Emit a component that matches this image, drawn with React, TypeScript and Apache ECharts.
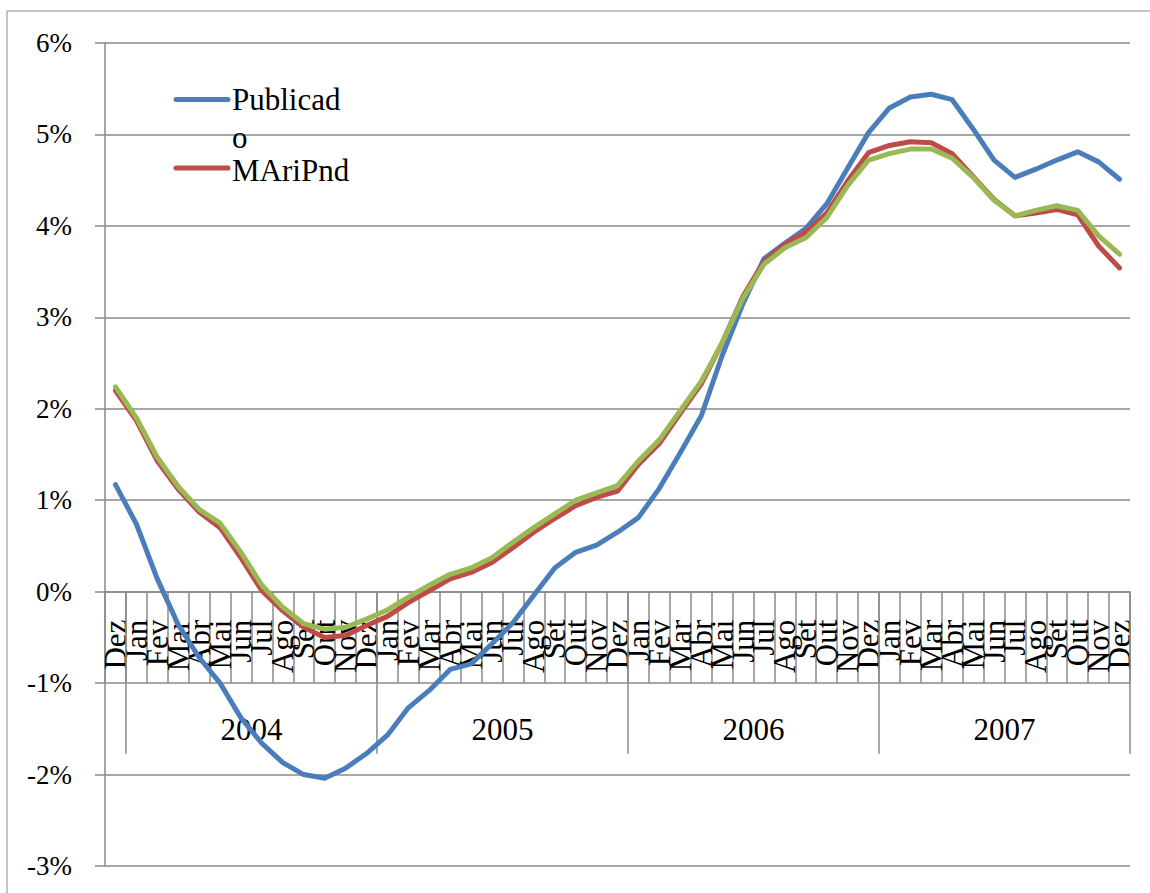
import React, { useEffect, useRef } from "react";
import * as echarts from "echarts";

// Month abbreviations (pt-BR) and the years covered
const monthNames = ["Jan", "Fev", "Mar", "Abr", "Mai", "Jun", "Jul", "Ago", "Set", "Out", "Nov", "Dez"];
const years = ["2004", "2005", "2006", "2007"];

// Categories: Dez/2003 followed by every month of 2004–2007
const categories: string[] = ["Dez/2003"];
years.forEach((y) => monthNames.forEach((m) => categories.push(`${m}/${y}`)));

// Series values (%)
const publicado = [
  1.17, 0.74, 0.14, -0.36, -0.72, -1.0, -1.38, -1.66, -1.87, -2.0, -2.04, -1.93, -1.77,
  -1.57, -1.27, -1.08, -0.85, -0.79, -0.57, -0.34, -0.04, 0.26, 0.43, 0.51, 0.65,
  0.81, 1.13, 1.52, 1.92, 2.58, 3.15, 3.64, 3.81, 3.97, 4.24, 4.63, 5.02,
  5.29, 5.41, 5.44, 5.38, 5.06, 4.72, 4.53, 4.62, 4.72, 4.81, 4.7, 4.51,
];
const mAriPnd = [
  2.2, 1.87, 1.43, 1.12, 0.87, 0.7, 0.37, 0.01, -0.21, -0.39, -0.5, -0.48, -0.37,
  -0.27, -0.12, 0.01, 0.14, 0.21, 0.32, 0.48, 0.65, 0.8, 0.94, 1.03, 1.1,
  1.39, 1.62, 1.95, 2.27, 2.72, 3.23, 3.61, 3.8, 3.93, 4.14, 4.49, 4.8,
  4.88, 4.92, 4.91, 4.79, 4.54, 4.29, 4.11, 4.14, 4.18, 4.12, 3.78, 3.54,
];
const serie3 = [
  2.24, 1.9, 1.47, 1.15, 0.9, 0.75, 0.43, 0.07, -0.17, -0.35, -0.41, -0.39, -0.3,
  -0.2, -0.06, 0.07, 0.19, 0.26, 0.37, 0.54, 0.7, 0.85, 1.0, 1.08, 1.16,
  1.43, 1.66, 1.98, 2.3, 2.72, 3.21, 3.58, 3.76, 3.87, 4.09, 4.44, 4.72,
  4.79, 4.84, 4.84, 4.74, 4.53, 4.28, 4.11, 4.17, 4.22, 4.17, 3.89, 3.69,
];

const serif = '"Liberation Serif", "Times New Roman", serif';
const gridColor = "#8a8a8a";
const blue = "#4A7EBB";
const red = "#BE4B48";
const green = "#98B954";

export default function App() {
  const ref = useRef<HTMLDivElement>(null);

  useEffect(() => {
    if (!ref.current) return;
    const chart = echarts.init(ref.current, undefined, { renderer: "svg" });

    const line = (name: string, data: number[], color: string) => ({
      name,
      type: "line",
      data,
      showSymbol: false,
      symbol: "none",
      z: 5,
      lineStyle: { color, width: 5, cap: "round", join: "round" },
      itemStyle: { color },
    });

    chart.setOption({
      animation: false,
      backgroundColor: "#ffffff",
      grid: { left: 105, right: 20, top: 43, bottom: 27, containLabel: false, outerBoundsMode: "none" },
      xAxis: {
        type: "category",
        data: categories,
        boundaryGap: true,
        axisLine: { show: true, onZero: true, lineStyle: { color: gridColor, width: 1.5 } },
        axisTick: { show: true, interval: 0, length: 91, lineStyle: { color: gridColor, width: 1.5 } },
        axisLabel: { show: false },
        splitLine: { show: false },
      },
      yAxis: {
        type: "value",
        min: -3,
        max: 6,
        interval: 1,
        axisLine: { show: true, lineStyle: { color: gridColor, width: 1.5 } },
        axisTick: { show: true, length: 10, lineStyle: { color: gridColor, width: 1.5 } },
        axisLabel: {
          margin: 33,
          fontFamily: serif,
          fontSize: 27,
          color: "#000",
          formatter: (v: number) => `${v}%`,
        },
        splitLine: { show: true, lineStyle: { color: gridColor, width: 1.5 } },
      },
      series: [
        line("Publicado", publicado, blue),
        line("MAriPnd", mAriPnd, red),
        line("Série3", serie3, green),
      ],
    });

    // Positions taken from the chart's own scales
    const px = (i: number) => chart.convertToPixel({ xAxisIndex: 0 }, i) as number;
    const y0 = chart.convertToPixel({ yAxisIndex: 0 }, 0) as number;
    const step = px(1) - px(0);
    const boundary = (i: number) => px(i) + step / 2;

    const graphic: any[] = [
      {
        type: "rect",
        shape: { x: 7, y: 11, width: 1200, height: 950 },
        style: { fill: "none", stroke: gridColor, lineWidth: 1 },
        silent: true,
        z: 0,
      },
    ];

    // Month labels, vertical, reading upwards, hanging under the zero line (drawn under the series)
    categories.forEach((c, i) => {
      graphic.push({
        type: "text",
        x: px(i),
        y: y0 + 28,
        rotation: Math.PI / 2,
        style: {
          text: c.split("/")[0],
          font: `31px ${serif}`,
          fill: "#000",
          align: "right",
          verticalAlign: "middle",
        },
        silent: true,
        z: 1,
      });
    });

    // Year bands: separators at year boundaries and centred year labels
    const sepIdx = [0, 12, 24, 36, 48];
    sepIdx.forEach((i) => {
      graphic.push({
        type: "line",
        shape: { x1: boundary(i), y1: y0, x2: boundary(i), y2: y0 + 162 },
        style: { stroke: gridColor, lineWidth: 1.5 },
        silent: true,
        z: 1,
      });
    });
    years.forEach((yr, k) => {
      const xa = boundary(sepIdx[k]);
      const xb = boundary(sepIdx[k + 1]);
      graphic.push({
        type: "text",
        x: (xa + xb) / 2,
        y: y0 + 138,
        style: { text: yr, font: `31px ${serif}`, fill: "#000", align: "center", verticalAlign: "middle" },
        silent: true,
        z: 1,
      });
    });

    // Legend
    const legendItems = [
      { color: blue, lines: ["Publicad", "o"], y: 99.5, textY: [99.5, 137] },
      { color: red, lines: ["MAriPnd"], y: 168, textY: [170] },
    ];
    legendItems.forEach((it) => {
      graphic.push({
        type: "line",
        shape: { x1: 176, y1: it.y, x2: 228, y2: it.y },
        style: { stroke: it.color, lineWidth: 5, lineCap: "round" },
        silent: true,
        z: 10,
      });
      it.lines.forEach((t, j) => {
        graphic.push({
          type: "text",
          x: 232,
          y: it.textY[j],
          style: {
            text: t,
            font: `31px ${serif}`,
            lineHeight: 31,
            fill: "#000",
            align: "left",
            verticalAlign: "middle",
          },
          silent: true,
          z: 10,
        });
      });
    });

    chart.setOption({ graphic });

    return () => chart.dispose();
  }, []);

  return (
    <div
      ref={ref}
      style={{ position: "fixed", left: 0, top: 0, width: 1150, height: 893, background: "#fff" }}
    />
  );
}
